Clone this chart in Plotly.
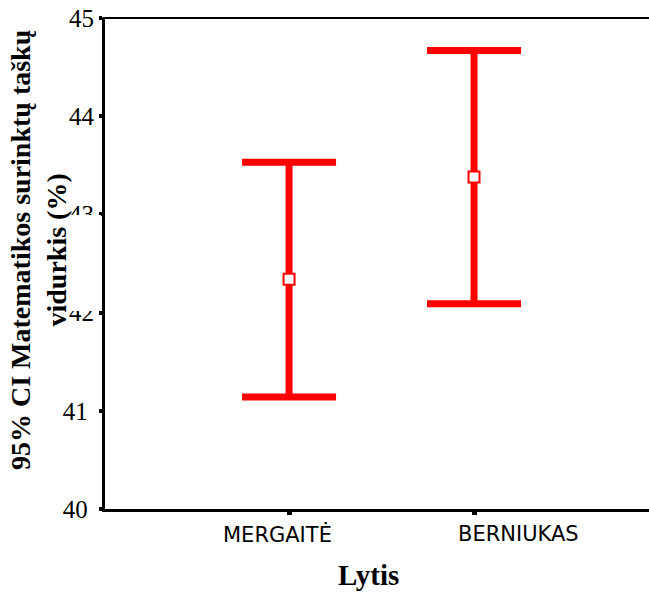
import plotly.graph_objects as go

# Data
categories = ["MERGAITĖ", "BERNIUKAS"]
means = [42.34, 43.38]
lower_ci = [41.14, 42.09]
upper_ci = [43.53, 44.67]
y_ticks = [40, 41, 42, 43, 44, 45]
y_tick_labels = ["40\u00a0", "41\u00a0", "42", "43", "44", "45"]
x_title = "Lytis"
y_title = "95% CI Matematikos surinktų taškų<br>vidurkis (%)"

err_plus = [u - m for u, m in zip(upper_ci, means)]
err_minus = [m - l for m, l in zip(means, lower_ci)]

RED = "#FF0000"
SERIF = "Liberation Serif, Times New Roman, serif"

fig = go.Figure()
fig.add_trace(go.Scatter(
    x=categories,
    y=means,
    mode="markers",
    marker=dict(symbol="square", size=11, color="white",
                line=dict(color=RED, width=2)),
    error_y=dict(type="data", symmetric=False, array=err_plus,
                 arrayminus=err_minus, color=RED, thickness=7, width=47),
    showlegend=False,
    hoverinfo="skip",
))

fig.update_layout(
    width=649, height=592,
    margin=dict(l=105, r=0, t=18, b=83),
    paper_bgcolor="white", plot_bgcolor="white",
    xaxis=dict(
        type="category",
        range=[-0.995, 1.946],
        showgrid=False, zeroline=False,
        showline=True, linecolor="black", linewidth=3,
        ticks="outside", ticklen=3, tickwidth=5, tickcolor="black",
        showticklabels=False,
        fixedrange=True,
    ),
    yaxis=dict(
        range=[40, 45],
        tickvals=y_ticks,
        ticktext=y_tick_labels,
        showgrid=False, zeroline=False,
        showline=True, linecolor="black", linewidth=3,
        ticks="outside", ticklen=3, tickwidth=4, tickcolor="black",
        tickfont=dict(family=SERIF, size=25, color="black"),
        fixedrange=True,
    ),
    shapes=[
        # top border line
        dict(type="line", xref="paper", yref="paper", x0=-0.005, x1=1,
             y0=1, y1=1, line=dict(color="black", width=2)),
        # white box behind the axis title that partly hides two tick labels
        dict(type="rect", xref="paper", yref="paper", layer="above",
             x0=-0.12, x1=-0.0075, y0=0.4033, y1=0.5988,
             fillcolor="white", line=dict(width=0)),
    ],
)

annotations = []
x_shifts = [-12, 44]
for cat, xs in zip(categories, x_shifts):
    annotations.append(dict(
        x=cat, xref="x", y=0, yref="paper", yanchor="top", xanchor="center",
        yshift=-11, xshift=xs, text=cat, showarrow=False,
        font=dict(family="DejaVu Sans", size=21, color="black"),
    ))
annotations.append(dict(
    x=0.5, xref="paper", y=0, yref="paper", yanchor="top", xanchor="center",
    xshift=-9, yshift=-48, text="<b>" + x_title + "</b>", showarrow=False,
    font=dict(family=SERIF, size=29, color="black"),
))
annotations.append(dict(
    x=-0.1213, xref="paper", y=0.5275, yref="paper",
    xanchor="center", yanchor="middle", textangle=-90,
    text="<b>" + y_title.replace("<br>", "</b><br><b>") + "</b>",
    showarrow=False,
    font=dict(family=SERIF, size=28, color="black"),
))
fig.update_layout(annotations=annotations)

fig.write_html("out.html")
